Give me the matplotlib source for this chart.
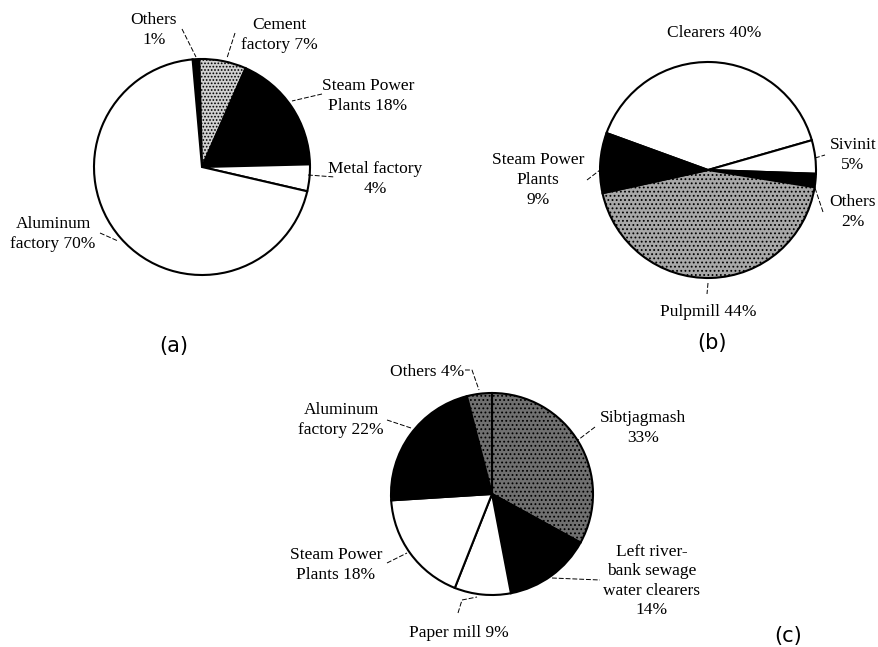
import matplotlib
matplotlib.use("Agg")
import matplotlib.pyplot as plt

W, H = 879, 647

# (a) sources, clockwise from the top
a_labels = ["Others\n1%", "Cement\nfactory 7%", "Steam Power\nPlants 18%", "Metal factory\n4%", "Aluminum\nfactory 70%"]
a_values = [1, 7, 18, 4, 70]

# (b)
b_labels = ["Clearers 40%", "Sivinit\n5%", "Others\n2%", "Pulpmill 44%", "Steam Power\nPlants\n9%"]
b_values = [40, 5, 2, 44, 9]

# (c)
c_labels = ["Sibtjagmash\n33%", "Left river-\nbank sewage\nwater clearers\n14%", "Paper mill 9%",
            "Steam Power\nPlants 18%", "Aluminum\nfactory 22%", "Others 4%"]
c_values = [33, 14, 9, 18, 22, 4]

plt.rcParams['font.family'] = ['Liberation Serif', 'DejaVu Serif']
plt.rcParams['hatch.linewidth'] = 0.8

fig = plt.figure(figsize=(W / 100, H / 100), dpi=100)
ax = fig.add_axes([0, 0, 1, 1])


def fy(y):
    # pixel row (from top) -> data y
    return H - y


def draw_pie(values, styles, cx, cy, r, start):
    wedges, _ = ax.pie(values, colors=[s[0] for s in styles], startangle=start,
                       counterclock=False, center=(cx, fy(cy)), radius=r,
                       wedgeprops=dict(edgecolor='black', linewidth=1.5))
    for w, s in zip(wedges, styles):
        if s[1]:
            w.set_hatch(s[1])
    return wedges


def label(text, x, y, line, size=12.5):
    ax.text(x, fy(y), text, ha='center', va='center', fontsize=size, linespacing=1.3)
    xs = [p[0] for p in line]
    ys = [fy(p[1]) for p in line]
    ax.plot(xs, ys, color='black', lw=0.7, ls=(0, (5, 2)))


white = ('white', None)
black = ('black', None)
light_dots = ('#d0d0d0', '.....')
mid_dots = ('#a8a8a8', '....')
dark_dots = ('#707070', '....')

draw_pie(a_values, [black, light_dots, black, white, white], 202, 167, 108, 95)
draw_pie(b_values, [white, white, black, mid_dots, black], 708, 170, 108, 160)
draw_pie(c_values, [dark_dots, black, white, white, black, dark_dots], 492, 494, 101, 90)

# labels for (a)
label(a_labels[0], 154, 30, [(182, 29), (196, 57)])
label(a_labels[1], 279, 35, [(235, 33), (227, 58)])
label(a_labels[2], 368, 96, [(322, 94), (292, 101)])
label(a_labels[3], 375, 179, [(308, 175), (335, 177)])
label(a_labels[4], 53, 234, [(100, 233), (118, 241)])

# labels for (b)
label(b_labels[0], 714, 33, [])
label(b_labels[1], 853, 155, [(815, 158), (825, 155)])
label(b_labels[2], 853, 212, [(815, 188), (823, 212)])
label(b_labels[3], 708, 312, [(708, 283), (707, 294)])
label(b_labels[4], 538, 180, [(587, 180), (600, 170)])

# labels for (c)
label(c_labels[0], 643, 428, [(595, 427), (578, 440)])
label(c_labels[1], 652, 581, [(552, 578), (600, 580)])
label(c_labels[2], 459, 633, [(458, 613), (462, 600), (477, 597)])
label(c_labels[3], 336, 565, [(387, 563), (407, 553)])
label(c_labels[4], 341, 420, [(387, 420), (411, 428)])
label(c_labels[5], 427, 372, [(465, 370), (472, 370), (479, 390)])

# panel letters
for t, x, y in [("(a)", 174, 346), ("(b)", 712, 343), ("(c)", 788, 636)]:
    ax.text(x, fy(y), t, ha='center', va='center', fontsize=15, family='DejaVu Sans')

ax.set_xlim(0, W)
ax.set_ylim(0, H)
ax.set_aspect('auto')
ax.axis('off')

fig.savefig("out.png", dpi=100)
